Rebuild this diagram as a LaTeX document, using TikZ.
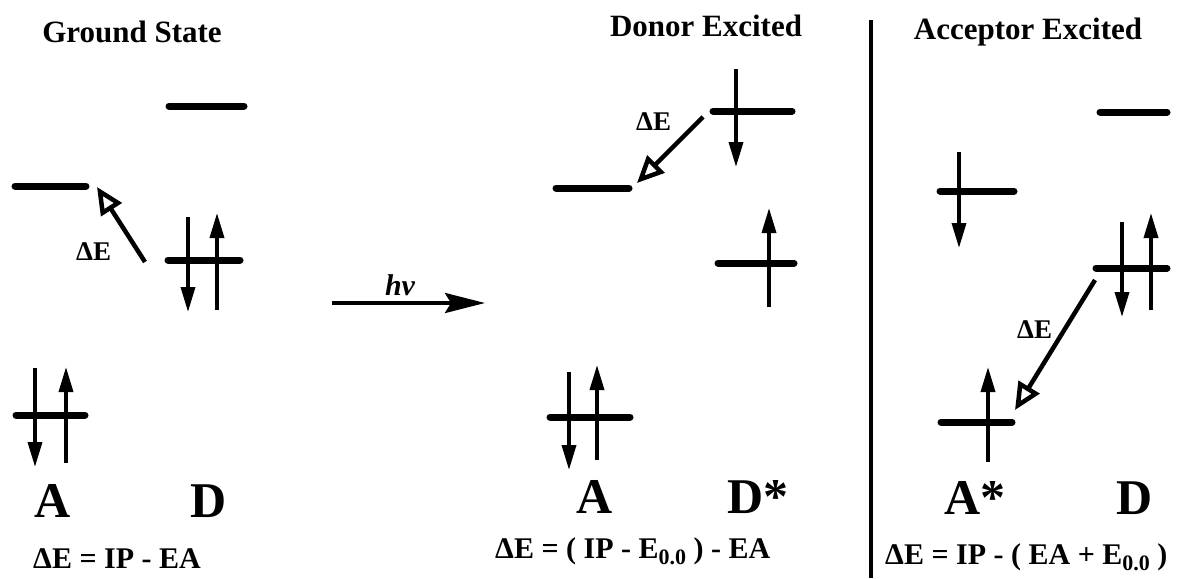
\documentclass[tikz,border=0pt]{standalone}
\usepackage{fontspec}
\setmainfont{Liberation Serif}
\usepackage{tikz}
\usetikzlibrary{arrows.meta}
\newcommand{\zz}{\raisebox{-6pt}{\fontsize{22}{24}\selectfont 0.0}}

\begin{document}
\begin{tikzpicture}[x=1pt,y=-1pt,
        livello/.style={line width=7pt, line cap=round},
        spin/.style={line width=3.5pt, -{Triangle[length=25pt,width=14pt]}},
        salto/.style={line width=4.5pt, -{Triangle[open,length=27pt,width=24pt]}},
        titolo/.style={font=\fontsize{31}{36}\selectfont\bfseries, anchor=base},
        lettera/.style={font=\fontsize{50}{56}\selectfont\bfseries, anchor=base},
        formula/.style={font=\fontsize{30}{34}\selectfont\bfseries, anchor=base west, inner sep=0pt},
        delta/.style={font=\fontsize{27}{30}\selectfont\bfseries, anchor=base west, inner sep=0pt}]
        \useasboundingbox (0,0) rectangle (1193,578);
        % Stato fondamentale
        \node[titolo] (tgs) at (132,42) {Ground State};
        \draw[livello] (15,186) -- (86,186);
        \draw[livello] (169,106) -- (244,106);
        \draw[livello] (168,260) -- (240,260);
        \draw[spin] (188,217) -- (188,312);
        \draw[spin] (217,310) -- (217,213);
        \draw[livello] (16,415) -- (85,415);
        \draw[spin] (35,368) -- (35,467);
        \draw[spin] (66,463) -- (66,367);
        \coordinate (gsda) at (145,262);
        \coordinate (gsa) at (97,187);
        \draw[salto] (gsda) -- (gsa);
        \node[delta] (dgs) at (76,260) {ΔE};
        \node[lettera] (ags) at (53,517) {A};
        \node[lettera] (dgsl) at (209,517) {D};
        \node[formula] (fgs) at (33,568) {ΔE = IP - EA};
        % Eccitazione
        \coordinate (hva) at (332,303);
        \coordinate (hvb) at (485,303);
        \draw[line width=3.5pt, -{Stealth[length=40pt,width=20pt,inset=6pt]}] (hva) -- (hvb);
        \node[font=\fontsize{30}{34}\selectfont\bfseries\itshape, anchor=base] (hv) at (400,295) {hν};
        % Donatore eccitato
        \node[titolo] (tde) at (706,37) {Donor Excited};
        \draw[livello] (556,188) -- (629,188);
        \draw[livello] (713,111) -- (792,111);
        \draw[spin] (736,69) -- (736,167);
        \draw[livello] (718,263) -- (794,263);
        \draw[spin] (769,307) -- (769,208);
        \draw[livello] (550,417) -- (630,417);
        \draw[spin] (569,372) -- (569,470);
        \draw[spin] (597,460) -- (597,365);
        \coordinate (deda) at (703,117);
        \coordinate (dea) at (637,183);
        \draw[salto] (deda) -- (dea);
        \node[delta] (dde) at (636,130) {ΔE};
        \node[lettera] (ade) at (595,513) {A};
        \node[lettera] (dde2) at (758,513) {D*};
        \node[formula] (fde) at (495,558) {ΔE = ( IP - E\zz\ ) - EA};
        % Separatore
        \coordinate (sepa) at (871,20);
        \coordinate (sepb) at (871,578);
        \draw[line width=3.5pt] (sepa) -- (sepb);
        % Accettore eccitato
        \node[titolo] (tae) at (1028,40) {Acceptor Excited};
        \draw[livello] (1100,112) -- (1167,112);
        \draw[livello] (940,191) -- (1014,191);
        \draw[spin] (959,152) -- (959,248);
        \draw[livello] (1096,268) -- (1167,268);
        \draw[spin] (1122,222) -- (1122,317);
        \draw[spin] (1151,310) -- (1151,213);
        \draw[livello] (941,422) -- (1012,422);
        \draw[spin] (988,462) -- (988,367);
        \coordinate (aeda) at (1095,280);
        \coordinate (aea) at (1015,410);
        \draw[salto] (aeda) -- (aea);
        \node[delta] (dae) at (1017,338) {ΔE};
        \node[lettera] (aae) at (975,514) {A*};
        \node[lettera] (dae2) at (1135,514) {D};
        \node[formula] (fae) at (885,564) {ΔE = IP - ( EA + E\zz\ )};
    \end{tikzpicture}
\end{document}
